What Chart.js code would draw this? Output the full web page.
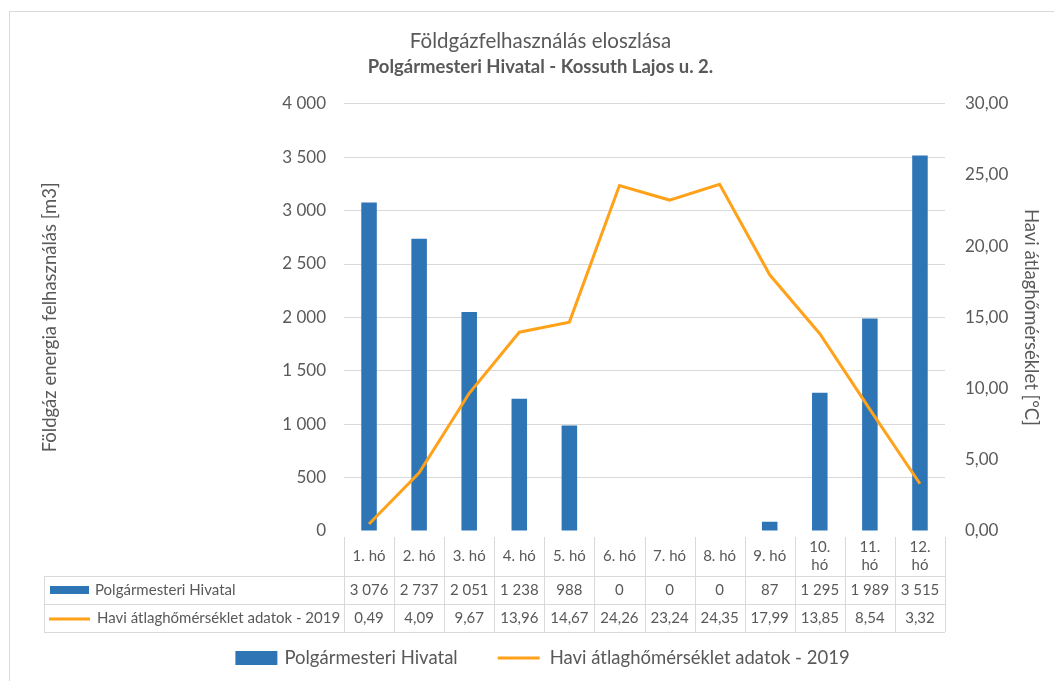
<!DOCTYPE html>
<html>
<head>
<meta charset="utf-8">
<title>Földgázfelhasználás eloszlása</title>
<script src="https://cdn.jsdelivr.net/npm/chart.js@4.4.0/dist/chart.umd.min.js"></script>
<style>
    html, body { margin: 0; padding: 0; background: #fff; }
    #wrap { position: relative; width: 1054px; height: 681px; overflow: hidden; }
    #frame { position: absolute; left: 9px; top: 11px; width: 1100px; height: 720px; border: 1px solid #d9d9d9; }
    #chart { position: absolute; left: 0; top: 0; }
</style>
</head>
<body>
<div id="wrap">
    <div id="frame"></div>
    <canvas id="chart" width="1054" height="681"></canvas>
</div>
<script>
// --- data ---
const months = ['1. hó', '2. hó', '3. hó', '4. hó', '5. hó', '6. hó', '7. hó', '8. hó', '9. hó', '10. hó', '11. hó', '12. hó'];
const gasUse = [3076, 2737, 2051, 1238, 988, 0, 0, 0, 87, 1295, 1989, 3515];
const avgTemp = [0.49, 4.09, 9.67, 13.96, 14.67, 24.26, 23.24, 24.35, 17.99, 13.85, 8.54, 3.32];
const seriesNames = ['Polgármesteri Hivatal', 'Havi átlaghőmérséklet adatok - 2019'];
const gasAxis = { min: 0, max: 4000, step: 500 };
const tempAxis = { min: 0, max: 30, step: 5 };

const BLUE = '#2E75B6';
const ORANGE = '#FFA21A';
const TEXT = '#595959';
const LINE = '#d9d9d9';
const FONT = 'Lato, "Open Sans", sans-serif';

function fmtGas(v) {
    return String(Math.round(v)).replace(/\B(?=(\d{3})+(?!\d))/g, ' ');
}
function fmtTemp(v) {
    return v.toFixed(2).replace('.', ',');
}

// data table under the plot + bottom legend
const dataTable = {
    id: 'dataTable',
    afterDraw(chart) {
        const { ctx, chartArea } = chart;
        const x = chart.scales.x;
        const colW = x.width / months.length;
        const top = chartArea.bottom + 6;
        const headH = 39, rowH = 28;
        const r1 = top + headH, r2 = r1 + rowH, r3 = r2 + rowH;
        const tblLeft = 44;

        ctx.save();
        ctx.strokeStyle = LINE;
        ctx.lineWidth = 1;
        ctx.beginPath();
        [r1, r2, r3].forEach(y => {
            ctx.moveTo(tblLeft, y + 0.5);
            ctx.lineTo(chartArea.right, y + 0.5);
        });
        ctx.moveTo(tblLeft + 0.5, r1);
        ctx.lineTo(tblLeft + 0.5, r3);
        for (let i = 0; i <= months.length; i++) {
            const px = Math.round(chartArea.left + i * colW) + 0.5;
            ctx.moveTo(px, top);
            ctx.lineTo(px, r3);
        }
        ctx.stroke();

        ctx.fillStyle = TEXT;
        ctx.textAlign = 'center';
        ctx.textBaseline = 'middle';
        ctx.font = '15px ' + FONT;
        months.forEach((m, i) => {
            const cx = x.getPixelForValue(i);
            // long labels wrap onto two lines, like the spreadsheet does
            if (ctx.measureText(m).width > colW - 12) {
                const parts = m.split(' ');
                ctx.fillText(parts[0], cx, top + headH / 2 - 9);
                ctx.fillText(parts.slice(1).join(' '), cx, top + headH / 2 + 9);
            } else {
                ctx.fillText(m, cx, top + headH / 2);
            }
            ctx.fillText(fmtGas(gasUse[i]), cx, r1 + rowH / 2);
            ctx.fillText(fmtTemp(avgTemp[i]), cx, r2 + rowH / 2);
        });

        // row keys
        ctx.textAlign = 'left';
        ctx.fillStyle = BLUE;
        ctx.fillRect(50, r1 + rowH / 2 - 4, 39, 8);
        ctx.strokeStyle = ORANGE;
        ctx.lineWidth = 3;
        ctx.beginPath();
        ctx.moveTo(49, r2 + rowH / 2 + 1);
        ctx.lineTo(90, r2 + rowH / 2 + 1);
        ctx.stroke();
        ctx.fillStyle = TEXT;
        ctx.fillText(seriesNames[0], 95, r1 + rowH / 2);
        ctx.fillText(seriesNames[1], 97, r2 + rowH / 2);

        // legend
        ctx.font = '18.5px ' + FONT;
        const keyW = 42, gapTxt = 7, gapItem = 40;
        const w0 = ctx.measureText(seriesNames[0]).width;
        const w1 = ctx.measureText(seriesNames[1]).width;
        const total = keyW + gapTxt + w0 + gapItem + keyW + gapTxt + w1;
        let lx = 541 - total / 2;
        const ly = 658;
        ctx.fillStyle = BLUE;
        ctx.fillRect(lx, ly - 7, keyW, 14);
        ctx.fillStyle = TEXT;
        ctx.fillText(seriesNames[0], lx + keyW + gapTxt, ly);
        lx += keyW + gapTxt + w0 + gapItem;
        ctx.strokeStyle = ORANGE;
        ctx.lineWidth = 3;
        ctx.beginPath();
        ctx.moveTo(lx, ly);
        ctx.lineTo(lx + keyW, ly);
        ctx.stroke();
        ctx.fillText(seriesNames[1], lx + keyW + gapTxt + 3, ly);
        ctx.restore();
    }
};

new Chart(document.getElementById('chart'), {
    data: {
        labels: months,
        datasets: [{
            type: 'bar',
            label: seriesNames[0],
            data: gasUse,
            backgroundColor: BLUE,
            yAxisID: 'y',
            categoryPercentage: 1,
            barPercentage: 0.31,
            order: 2
        }, {
            type: 'line',
            label: seriesNames[1],
            data: avgTemp,
            borderColor: ORANGE,
            borderWidth: 3,
            pointRadius: 0,
            tension: 0,
            yAxisID: 'y1',
            order: 1
        }]
    },
    plugins: [dataTable],
    options: {
        responsive: false,
        animation: false,
        layout: { padding: { left: 35, right: 8, top: 0, bottom: 0 } },
        plugins: {
            legend: { display: false },
            tooltip: { enabled: false },
            title: {
                display: true,
                text: 'Földgázfelhasználás eloszlása',
                color: TEXT,
                font: { family: FONT, size: 20.5, weight: 'normal' },
                padding: { top: 29, bottom: 1 }
            },
            subtitle: {
                display: true,
                text: 'Polgármesteri Hivatal - Kossuth Lajos u. 2.',
                color: TEXT,
                font: { family: FONT, size: 18.5, weight: 'bold' },
                padding: { top: 1, bottom: 26 }
            }
        },
        scales: {
            x: {
                grid: { display: false },
                border: { display: false },
                ticks: { display: false },
                afterFit(s) { s.height = 150; }
            },
            y: {
                position: 'left',
                min: gasAxis.min,
                max: gasAxis.max,
                ticks: {
                    stepSize: gasAxis.step,
                    color: TEXT,
                    padding: 18,
                    font: { family: FONT, size: 17 },
                    callback: v => fmtGas(v)
                },
                grid: {
                    drawTicks: false,
                    color: ctx => ctx.tick && ctx.tick.value === 0 ? 'rgba(0,0,0,0)' : LINE
                },
                border: { display: false },
                title: {
                    display: true,
                    text: 'Földgáz energia felhasználás [m3]',
                    color: TEXT,
                    font: { family: FONT, size: 18.5 }
                },
                afterFit(s) { s.width = 309; }
            },
            y1: {
                position: 'right',
                min: tempAxis.min,
                max: tempAxis.max,
                ticks: {
                    stepSize: tempAxis.step,
                    color: TEXT,
                    padding: 20,
                    font: { family: FONT, size: 17 },
                    callback: v => fmtTemp(v)
                },
                grid: { display: false, drawTicks: false },
                border: { display: false },
                title: {
                    display: true,
                    text: 'Havi átlaghőmérséklet [°C]',
                    color: TEXT,
                    font: { family: FONT, size: 18.5 }
                },
                afterFit(s) { s.width = 101; }
            }
        }
    }
});
</script>
</body>
</html>
